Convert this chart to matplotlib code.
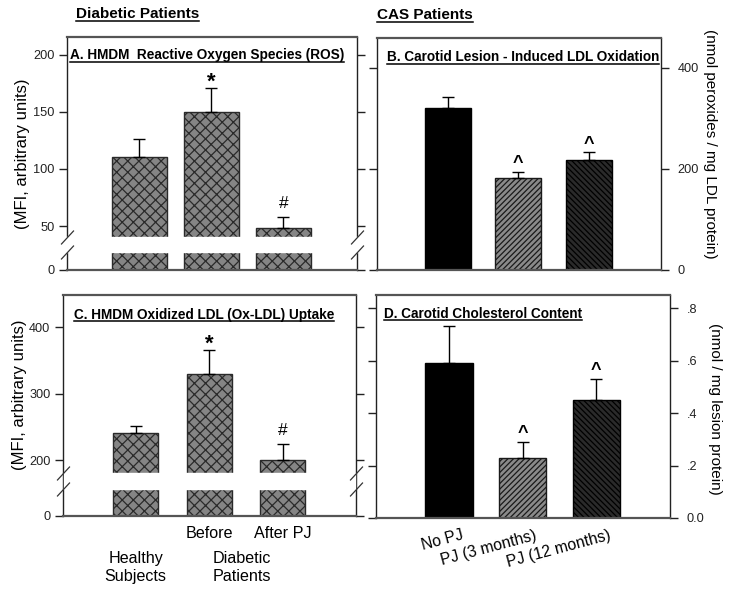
import numpy as np
import matplotlib
matplotlib.use('Agg')
import matplotlib.pyplot as plt
from matplotlib.transforms import blended_transform_factory, ScaledTranslation
from matplotlib.lines import Line2D

plt.rcParams['font.family'] = ['Liberation Sans', 'DejaVu Sans']
plt.rcParams['hatch.linewidth'] = 0.9

W, H = 742, 596

# ---- data ----
# A. HMDM ROS (MFI)
ros_mean = [110, 150, 48]
ros_sem = [16, 21, 10]
ros_marks = ['', '*', '#']
ros_ticks = [0, 50, 100, 150, 200]

# C. HMDM Ox-LDL uptake (MFI)
oxldl_mean = [241, 329, 200]
oxldl_sem = [10, 37, 24]
oxldl_marks = ['', '*', '#']
oxldl_ticks = [0, 200, 300, 400]
diab_ticklabels = ['', 'Before', 'After PJ']

# B. carotid lesion induced LDL oxidation
ldlox_mean = [321, 182, 218]
ldlox_sem = [22, 12, 15]
ldlox_ticks = [0, 200, 400]

# D. carotid cholesterol content
chol_mean = [0.59, 0.23, 0.45]
chol_sem = [0.14, 0.06, 0.08]
chol_ticks = [0, 0.2, 0.4, 0.6, 0.8]
chol_ticklabels = ['0.0', '.2', '.4', '.6', '.8']

cas_marks = ['', '^', '^']
cas_groups = ['No PJ', 'PJ (3 months)', 'PJ (12 months)']

# mark style: (fontsize, weight, offset in points above the error cap)
mark_style = {'*': (16, 'bold', 0), '#': (12.5, 'normal', 6.5),
              '^': (13, 'bold', 2.5), '': (12, 'normal', 0)}

fig = plt.figure(figsize=(W / 100, H / 100), dpi=100)


def px_axes(left, top, right, bottom):
    return fig.add_axes([left / W, 1 - bottom / H, (right - left) / W, (bottom - top) / H])


def broken_scale(brk, h_brk, k):
    # pixels above baseline: squeezed stub below brk, slope k above it
    def fwd(v):
        v = np.asarray(v, float)
        return np.where(v <= brk, v * h_brk / brk, h_brk + (v - brk) * k)

    def inv(p):
        p = np.asarray(p, float)
        return np.where(p <= h_brk, p * brk / h_brk, brk + (p - h_brk) / k)
    return fwd, inv


def setup(ax, xlim, ylim, ticks, side='left'):
    ax.set_xlim(*xlim)
    ax.set_ylim(*ylim)
    ax.set_yticks(ticks)
    ax.tick_params(axis='y', direction='out', length=6, width=1, left=True, right=True,
                   labelsize=9.2, colors='#222', pad=3)
    if side == 'right':
        ax.tick_params(axis='y', labelleft=False, labelright=True, pad=6)
    ax.tick_params(axis='x', length=0)
    for s in ['top', 'bottom']:
        ax.spines[s].set(color='#555', lw=1.6)
    for s in ['left', 'right']:
        ax.spines[s].set(color='#222', lw=1.0)


def draw_bars(ax, means, sems, width, faces, edges, hatches, marks):
    x = np.arange(len(means))
    bars = ax.bar(x, means, width, color=faces, edgecolor=edges, linewidth=1.0, zorder=2)
    for b, h in zip(bars, hatches):
        b.set_hatch(h)
    ax.errorbar(x, means, yerr=[np.zeros(len(sems)), sems], fmt='none', ecolor='black',
                elinewidth=1, capsize=4.5, capthick=1, zorder=3)
    for xi, m, s, t in zip(x, means, sems, marks):
        size, weight, off = mark_style[t]
        ax.annotate(t, (xi, m + s), xytext=(0, off), textcoords='offset points',
                    ha='center', va='baseline', fontsize=size, fontweight=weight)


def add_break(ax, lo, hi, cover_spines):
    x0, x1 = (-0.015, 1.015) if cover_spines else (0.004, 0.996)
    ax.axhspan(lo, hi, xmin=x0, xmax=x1, color='white', zorder=2.7, clip_on=False)
    tr = blended_transform_factory(ax.transAxes, ax.transData)
    for y in (lo, hi):
        ax.plot([0, 1], [y, y], transform=tr, ls='none', marker=[(-1, -1.08), (1, 1.08)],
                ms=10, mew=0.9, color='#333', clip_on=False, zorder=4)


renderer = fig.canvas.get_renderer()


def utext(x, y, s, size):
    t = fig.text(x / W, 1 - y / H, s, fontsize=size, fontweight='bold', ha='left', va='baseline')
    bb = t.get_window_extent(renderer)
    yl = (bb.y0 + 0.5) / H
    fig.add_artist(Line2D([bb.x0 / W, bb.x1 / W], [yl, yl], color='black', lw=1.1))


# ---- panel A ----
axA = px_axes(67, 37, 357, 270)
fA, iA = broken_scale(40.4, 33, 1.143)
axA.set_yscale('function', functions=(fA, iA))
setup(axA, (-1.0, 3.02), (0, 215.4), ros_ticks)
axA.set_xticks([])
draw_bars(axA, ros_mean, ros_sem, 0.76, '#858585', '#2a2a2a', ['xxx'] * 3, ros_marks)
add_break(axA, 22.0, 40.4, True)

# ---- panel C ----
axC = px_axes(63, 295, 356, 516)
fC, iC = broken_scale(180.5, 43, 0.665)
axC.set_yscale('function', functions=(fC, iC))
setup(axC, (-0.99, 3.0), (0, 448.2), oxldl_ticks)
draw_bars(axC, oxldl_mean, oxldl_sem, 0.61, '#858585', '#2a2a2a', ['xxx'] * 3, oxldl_marks)
add_break(axC, 113.3, 180.5, False)
axC.set_xticks(range(3))
axC.set_xticklabels(diab_ticklabels, fontsize=11.6)
axC.tick_params(axis='x', pad=7)
trC = blended_transform_factory(axC.transData, axC.transAxes)
axC.text(0, -0.233, 'Healthy\nSubjects', transform=trC, ha='center', va='center', fontsize=11.6)
axC.text(1.45, -0.233, 'Diabetic\nPatients', transform=trC, ha='center', va='center', fontsize=11.6)

# ---- panel B ----
cas_faces = ['#000000', '#8a8a8a', '#2a2a2a']
cas_edges = ['#000000', '#1a1a1a', '#000000']
cas_hatch = ['', '//////', '\\\\\\\\\\\\']
axB = px_axes(377, 38, 661, 270)
setup(axB, (-1.01, 3.03), (0, 459), ldlox_ticks, side='right')
axB.set_xticks([])
draw_bars(axB, ldlox_mean, ldlox_sem, 0.655, cas_faces, cas_edges, cas_hatch, cas_marks)

# ---- panel D ----
axD = px_axes(376, 295, 670, 518)
setup(axD, (-0.99, 3.0), (0, 0.85), chol_ticks, side='right')
axD.set_yticklabels(chol_ticklabels)
draw_bars(axD, chol_mean, chol_sem, 0.64, cas_faces, cas_edges, cas_hatch, cas_marks)
axD.set_xticks(range(3))
axD.set_xticklabels(cas_groups, fontsize=11.3, rotation=15, ha='right', va='top',
                    rotation_mode='anchor')
axD.tick_params(axis='x', pad=7)
for lab in axD.get_xticklabels():
    lab.set_transform(lab.get_transform() + ScaledTranslation(0.12, 0, fig.dpi_scale_trans))

# ---- axis labels ----
fig.text(23 / W, 1 - 153.5 / H, '(MFI, arbitrary units)', rotation=90, ha='center', va='center', fontsize=12)
fig.text(20 / W, 1 - 394.5 / H, '(MFI, arbitrary units)', rotation=90, ha='center', va='center', fontsize=12)
fig.text(710 / W, 1 - 144 / H, '(nmol peroxides / mg LDL protein)', rotation=270, ha='center', va='center', fontsize=11)
fig.text(715 / W, 1 - 409 / H, '(nmol / mg lesion protein)', rotation=270, ha='center', va='center', fontsize=11)

# ---- headers and panel titles ----
utext(76, 18.3, 'Diabetic Patients', 11)
utext(377, 19.3, 'CAS Patients', 11)
utext(70, 59.3, 'A. HMDM  Reactive Oxygen Species (ROS)', 9.8)
utext(387, 61, 'B. Carotid Lesion - Induced LDL Oxidation', 9.8)
utext(74, 318.5, 'C. HMDM Oxidized LDL (Ox-LDL) Uptake', 9.8)
utext(384, 317.7, 'D. Carotid Cholesterol Content', 9.8)

fig.savefig('out.png', dpi=100)
